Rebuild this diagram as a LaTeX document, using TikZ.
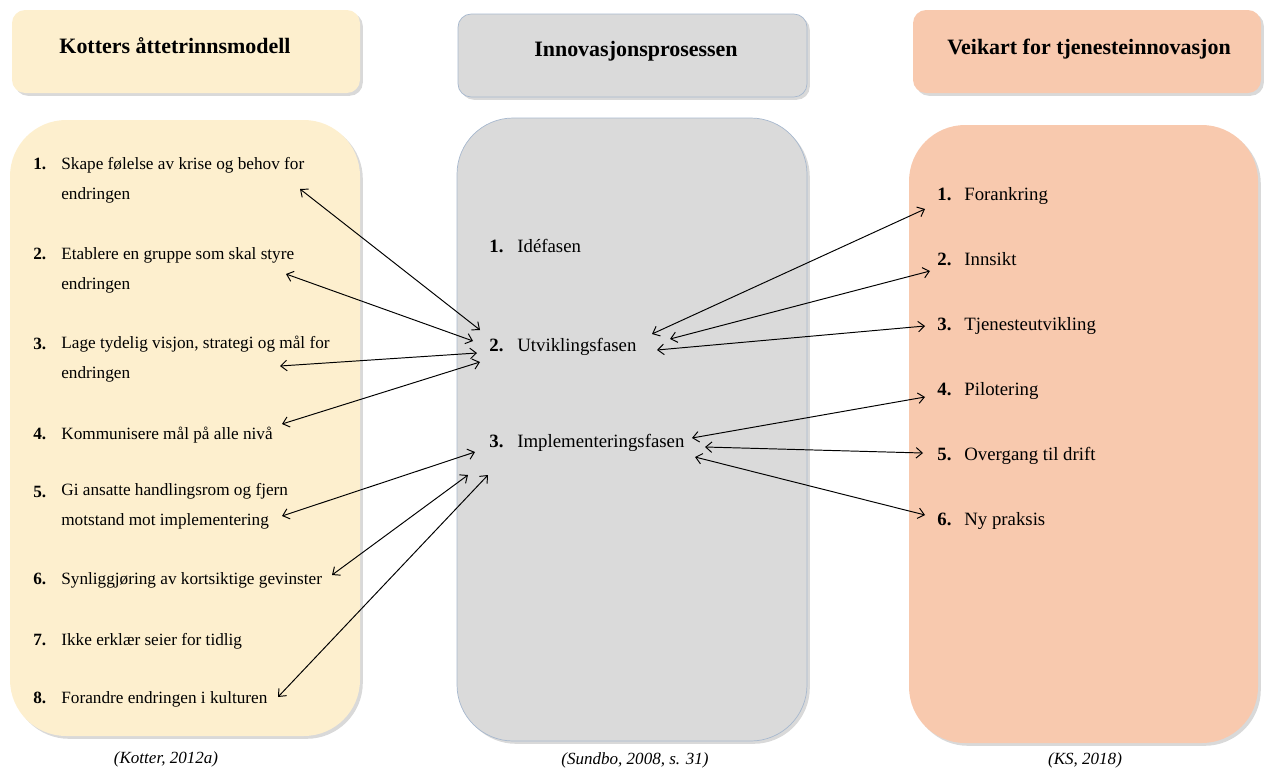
\documentclass[tikz,border=0pt]{standalone}
\usepackage{fontspec}
\setmainfont{Liberation Serif}
\usetikzlibrary{arrows.meta,shadows}
\definecolor{kotterfill}{HTML}{FDEFCE}
\definecolor{innovfill}{HTML}{DADADA}
\definecolor{innovline}{HTML}{A7B8CE}
\definecolor{veikartfill}{HTML}{F8C9AE}

\begin{document}
\begin{tikzpicture}[x=0.02cm, y=-0.02cm,
  panel/.style={rounded corners=#1, drop shadow={shadow xshift=1.6pt, shadow yshift=-1.6pt, opacity=0.3}},
  head/.style={anchor=base, font=\fontsize{12.5}{14}\selectfont\bfseries, inner sep=0pt},
  num/.style={anchor=base west, inner sep=0pt, font=\fontsize{#1}{17}\selectfont\bfseries},
  num/.default=10.7,
  txt/.style={anchor=base west, inner sep=0pt, align=left, font=\fontsize{#1}{17}\selectfont},
  txt/.default=10.7,
  src/.style={font=\fontsize{9.7}{11}\selectfont\itshape, inner sep=0pt},
  link/.style={{Straight Barb[length=3.5pt,width=6pt]}-{Straight Barb[length=3.5pt,width=6pt]}, line width=0.55pt}]
  \useasboundingbox (0,0) rectangle (1264,771);

  \fill[kotterfill, panel=7.5pt] (12,10) rectangle (360,93);
  \filldraw[fill=innovfill, draw=innovline, panel=7.5pt] (458,14) rectangle (807,97);
  \fill[veikartfill, panel=7.5pt] (913,10) rectangle (1261,93);

  \fill[kotterfill, panel=32pt] (10,120) rectangle (360,736);
  \filldraw[fill=innovfill, draw=innovline, panel=32pt] (457,118) rectangle (807,741);
  \fill[veikartfill, panel=32pt] (909,125) rectangle (1258,743);

  \node[head] (hkotter) at (175,53) {Kotters åttetrinnsmodell};
  \node[head] (hinnov) at (636,56) {Innovasjonsprosessen};
  \node[head] (hveikart) at (1089,54) {Veikart for tjenesteinnovasjon};

  % two-line items sit on the baseline of their last line
  \node[num=9.8] (k1n) at (33,169) {1.};
  \node[txt=9.8] (k1) at (61,199) {Skape følelse av krise og behov for\\endringen};
  \node[num=9.8] (k2n) at (33,259) {2.};
  \node[txt=9.8] (k2) at (61,289) {Etablere en gruppe som skal styre\\endringen};
  \node[num=9.8] (k3n) at (33,349) {3.};
  \node[txt=9.8] (k3) at (61,378) {Lage tydelig visjon, strategi og mål for\\endringen};
  \node[num=9.8] (k4n) at (33,439) {4.};
  \node[txt=9.8] (k4) at (61,439) {Kommunisere mål på alle nivå};
  \node[num=9.8] (k5n) at (33,497) {5.};
  \node[txt=9.8] (k5) at (61,525) {Gi ansatte handlingsrom og fjern\\motstand mot implementering};
  \node[num=9.8] (k6n) at (33,584) {6.};
  \node[txt=9.8] (k6) at (61,584) {Synliggjøring av kortsiktige gevinster};
  \node[num=9.8] (k7n) at (33,645) {7.};
  \node[txt=9.8] (k7) at (61,645) {Ikke erklær seier for tidlig};
  \node[num=9.8] (k8n) at (33,703) {8.};
  \node[txt=9.8] (k8) at (61,703) {Forandre endringen i kulturen};

  \node[num] (i1n) at (489,252) {1.};
  \node[txt] (i1) at (517,252) {Idéfasen};
  \node[num] (i2n) at (489,351) {2.};
  \node[txt] (i2) at (517,351) {Utviklingsfasen};
  \node[num] (i3n) at (489,447) {3.};
  \node[txt] (i3) at (517,447) {Implementeringsfasen};

  \node[num] (v1n) at (937,200) {1.};
  \node[txt] (v1) at (964,200) {Forankring};
  \node[num] (v2n) at (937,265) {2.};
  \node[txt] (v2) at (964,265) {Innsikt};
  \node[num] (v3n) at (937,330) {3.};
  \node[txt] (v3) at (964,330) {Tjenesteutvikling};
  \node[num] (v4n) at (937,395) {4.};
  \node[txt] (v4) at (964,395) {Pilotering};
  \node[num] (v5n) at (937,460) {5.};
  \node[txt] (v5) at (964,460) {Overgang til drift};
  \node[num] (v6n) at (937,525) {6.};
  \node[txt] (v6) at (964,525) {Ny praksis};

  \node[src] (skotter) at (166,759) {(Kotter, 2012a)};
  \node[src] (sinnov) at (635,760) {(Sundbo, 2008, s. 31)};
  \node[src] (sveikart) at (1085,760) {(KS, 2018)};

  \coordinate (k1e) at (300,189);
  \coordinate (k2e) at (286,274);
  \coordinate (k3e) at (280,366);
  \coordinate (k4e) at (282,424);
  \coordinate (k5e) at (282,516);
  \coordinate (k6e) at (332,575);
  \coordinate (k8e) at (278,697);
  \coordinate (i2w1) at (480,330);
  \coordinate (i2w2) at (473,341);
  \coordinate (i2w3) at (477,353);
  \coordinate (i2w4) at (480,362);
  \coordinate (i3w1) at (475,452);
  \coordinate (i3w2) at (468,475);
  \coordinate (i3w3) at (488,475);
  \coordinate (i2e1) at (652,334);
  \coordinate (i2e2) at (670,339);
  \coordinate (i2e3) at (657,350);
  \coordinate (i3e1) at (692,438);
  \coordinate (i3e2) at (705,447);
  \coordinate (i3e3) at (695,457);
  \coordinate (v1w) at (925,209);
  \coordinate (v2w) at (930,271);
  \coordinate (v3w) at (925,326);
  \coordinate (v4w) at (925,397);
  \coordinate (v5w) at (923,453);
  \coordinate (v6w) at (925,515);

  \draw[link] (k1e) -- (i2w1);
  \draw[link] (k2e) -- (i2w2);
  \draw[link] (k3e) -- (i2w3);
  \draw[link] (k4e) -- (i2w4);
  \draw[link] (k5e) -- (i3w1);
  \draw[link] (k6e) -- (i3w2);
  \draw[link] (k8e) -- (i3w3);

  \draw[link] (i2e1) -- (v1w);
  \draw[link] (i2e2) -- (v2w);
  \draw[link] (i2e3) -- (v3w);
  \draw[link] (i3e1) -- (v4w);
  \draw[link] (i3e2) -- (v5w);
  \draw[link] (i3e3) -- (v6w);
\end{tikzpicture}
\end{document}
